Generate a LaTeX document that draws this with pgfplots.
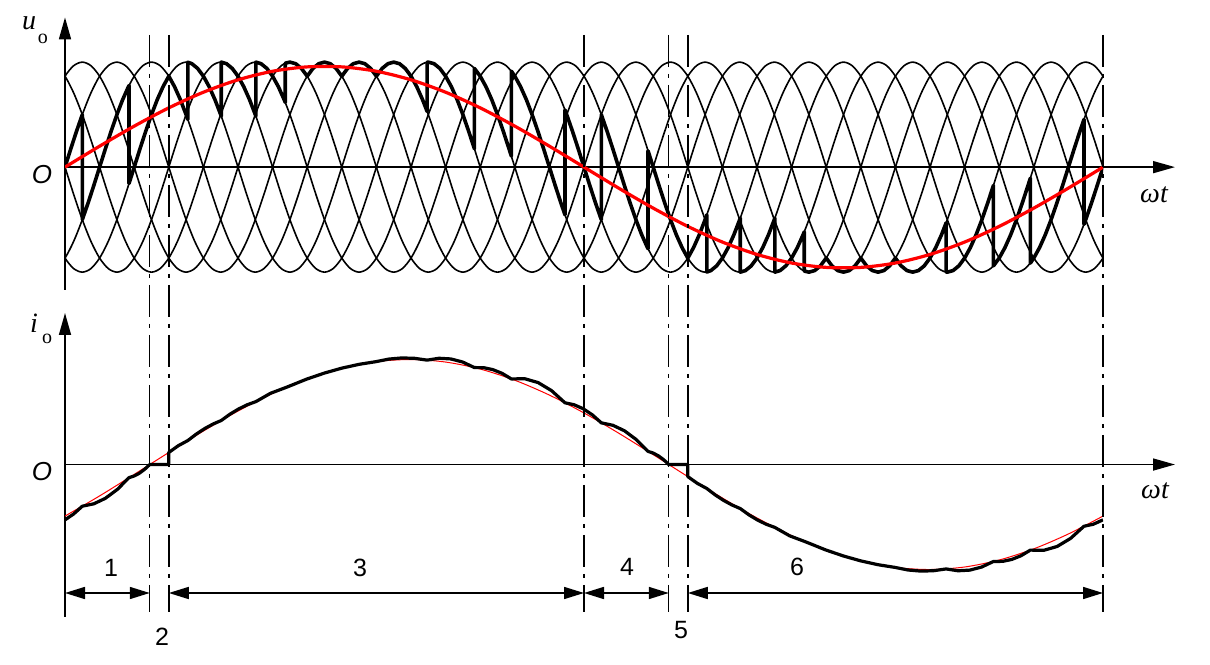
\documentclass[border=0pt]{standalone}
\usepackage{fontspec}
\setmainfont{Liberation Sans}
\newfontfamily\serif{Liberation Serif}
\usepackage{pgfplots}
\pgfplotsset{compat=1.18}
\usepackage{pgfplotstable}
\usetikzlibrary{arrows.meta}

% one period of an input phase voltage (angle in degrees, value)
\pgfplotstableread{
t v
0 0
15 0.2588
30 0.5
45 0.7071
60 0.8660
75 0.9659
90 1
105 0.9659
120 0.8660
135 0.7071
150 0.5
165 0.2588
180 0
195 -0.2588
210 -0.5
225 -0.7071
240 -0.8660
255 -0.9659
270 -1
285 -0.9659
300 -0.8660
315 -0.7071
330 -0.5
345 -0.2588
360 0
}\sinper

\pgfplotsset{
  panel/.style={
    scale only axis, width=519pt, xmin=0, xmax=1800,
    anchor=south west, axis lines=middle,
    xtick=\empty, ytick=\empty,
    every inner x axis line/.append style={line width=0.8pt,-{Triangle[length=11pt,width=6pt]},shorten >=-36pt},
    every inner y axis line/.append style={line width=0.8pt,-{Triangle[length=11pt,width=6pt]}},
  },
}

\begin{document}
\begin{tikzpicture}
\useasboundingbox (0,0) rectangle (605pt,332pt);

% ---------------- top panel: u_o ----------------
\begin{axis}[panel, at={(32.5pt,187pt)}, height=136.3pt, ymin=-1.17, ymax=1.426]
\pgfplotsinvokeforeach{-6,...,30}{
  \addplot[black, line width=0.8pt, smooth] table[x expr=\thisrow{t}+60*(#1), y=v] {\sinper};
}
\addplot[black, line width=1.8pt, line join=round] coordinates {
(0,0) (10,.174) (20,.342) (30,.5) (30,-.5) (40,-.342) (50,-.174) (60,0) (70,.174) (80,.342) (90,.5) (100,.643) (110,.766) (111,.777)
(111,-.156) (120,0) (130,.174) (140,.342) (150,.5) (160,.643) (170,.766) (180,.866) (190,.766) (200,.643) (210,.5) (213,.454)
(213,.999) (220,.985) (230,.940) (240,.866) (250,.766) (260,.643) (270,.5) (271,.485)
(271,1) (280,.985) (290,.940) (300,.866) (310,.766) (320,.643) (330,.5) (331,.485)
(331,1) (340,.985) (350,.940) (360,.866) (370,.766) (380,.643) (382,.616)
(382,.990) (390,1) (400,.985) (410,.940) (420,.866) (430,.940) (440,.985) (450,1) (460,.985) (470,.940) (480,.866)
(490,.940) (500,.985) (510,1) (520,.985) (530,.940) (540,.866) (550,.940) (560,.985) (570,1) (580,.985) (590,.940)
(600,.866) (610,.766) (620,.643) (628,.530)
(628,.999) (630,1) (640,.985) (650,.940) (660,.866) (670,.766) (680,.643) (690,.5) (700,.342) (710,.174)
(710,.940) (720,.866) (730,.766) (740,.643) (750,.5) (760,.342) (770,.174) (774,.105)
(774,.914) (780,.866) (790,.766) (800,.643) (810,.5) (820,.342) (830,.174) (840,0) (850,-.174) (860,-.342) (867,-.454)
(867,.545) (870,.5) (880,.342) (890,.174) (900,0)
(910,-.174) (920,-.342) (930,-.5) (930,.5) (940,.342) (950,.174) (960,0) (970,-.174) (980,-.342) (990,-.5) (1000,-.643) (1010,-.766) (1011,-.777)
(1011,.156) (1020,0) (1030,-.174) (1040,-.342) (1050,-.5) (1060,-.643) (1070,-.766) (1080,-.866) (1090,-.766) (1100,-.643) (1110,-.5) (1113,-.454)
(1113,-.999) (1120,-.985) (1130,-.940) (1140,-.866) (1150,-.766) (1160,-.643) (1170,-.5) (1171,-.485)
(1171,-1) (1180,-.985) (1190,-.940) (1200,-.866) (1210,-.766) (1220,-.643) (1230,-.5) (1231,-.485)
(1231,-1) (1240,-.985) (1250,-.940) (1260,-.866) (1270,-.766) (1280,-.643) (1282,-.616)
(1282,-.990) (1290,-1) (1300,-.985) (1310,-.940) (1320,-.866) (1330,-.940) (1340,-.985) (1350,-1) (1360,-.985) (1370,-.940) (1380,-.866)
(1390,-.940) (1400,-.985) (1410,-1) (1420,-.985) (1430,-.940) (1440,-.866) (1450,-.940) (1460,-.985) (1470,-1) (1480,-.985) (1490,-.940)
(1500,-.866) (1510,-.766) (1520,-.643) (1528,-.530)
(1528,-.999) (1530,-1) (1540,-.985) (1550,-.940) (1560,-.866) (1570,-.766) (1580,-.643) (1590,-.5) (1600,-.342) (1610,-.174)
(1610,-.940) (1620,-.866) (1630,-.766) (1640,-.643) (1650,-.5) (1660,-.342) (1670,-.174) (1674,-.105)
(1674,-.914) (1680,-.866) (1690,-.766) (1700,-.643) (1710,-.5) (1720,-.342) (1730,-.174) (1740,0) (1750,.174) (1760,.342) (1767,.454)
(1767,-.545) (1770,-.5) (1780,-.342) (1790,-.174) (1800,0)
};
\addplot[red, line width=1.6pt, smooth] coordinates {
(0,0) (60,.1996) (120,.3904) (180,.5643) (240,.7134) (300,.8314) (360,.9131) (420,.9547) (480,.9547) (540,.9131)
(600,.8314) (660,.7134) (720,.5643) (780,.3904) (840,.1996) (900,0) (960,-.1996) (1020,-.3904) (1080,-.5643)
(1140,-.7134) (1200,-.8314) (1260,-.9131) (1320,-.9547) (1380,-.9547) (1440,-.9131) (1500,-.8314) (1560,-.7134)
(1620,-.5643) (1680,-.3904) (1740,-.1996) (1800,0)
};
\end{axis}

% ---------------- bottom panel: i_o ----------------
\begin{axis}[panel, at={(32.5pt,23.5pt)}, height=152pt, ymin=-1.452, ymax=1.443]
\addplot[red, line width=0.5pt, smooth] coordinates {
(0,-.4909) (60,-.2990) (120,-.0941) (180,.1149) (240,.3190) (300,.5090) (360,.6769) (420,.8151) (480,.9178) (540,.9803)
(600,.9999) (660,.9759) (720,.9092) (780,.8028) (840,.6613) (900,.4909) (960,.2990) (1020,.0941) (1080,-.1149)
(1140,-.3190) (1200,-.5090) (1260,-.6769) (1320,-.8151) (1380,-.9178) (1440,-.9803) (1500,-.9999) (1560,-.9759)
(1620,-.9092) (1680,-.8028) (1740,-.6613) (1800,-.4909)
};
\addplot[black, line width=1.6pt, line join=round] coordinates {
(0,-.527) (15,-.471) (30,-.397) (50,-.374) (70,-.322) (91,-.236) (111,-.125) (120,-.109) (129,-.083) (138,-.046) (147,0)
(180,0) (180,.1149) (196.5,.1794) (213,.2284) (227.5,.2893) (242,.3416) (256.5,.385) (271,.4195) (286,.4792) (301,.529)
(316,.5691) (331,.599) (356.5,.6788) (382,.7314) (420,.8151) (450,.8712) (480,.9178) (510,.9542) (540,.9803)
(562,1.0045) (584,1.015) (606,1.0115) (628,.9942) (648.5,1.0119) (669,1.0056) (689.5,.9763) (710,.9232)
(726,.9223) (742,.9036) (758,.8682) (774,.8151) (797.25,.8171) (820.5,.7803) (843.75,.7035) (867,.5878)
(882.75,.5694) (898.5,.5315) (914.25,.474) (930,.3971) (950.25,.3733) (970.5,.3204) (990.75,.2371) (1011,.1253)
(1020,.109) (1029,.0828) (1038,.0464) (1047,0)
(1080,0) (1080,-.1149) (1096.5,-.1794) (1113,-.2284) (1127.5,-.2893) (1142,-.3416) (1156.5,-.385) (1171,-.4195)
(1186,-.4792) (1201,-.529) (1216,-.5691) (1231,-.599) (1256.5,-.6788) (1282,-.7314) (1320,-.8151) (1350,-.8712)
(1380,-.9178) (1410,-.9542) (1440,-.9803) (1462,-1.0045) (1484,-1.015) (1506,-1.0115) (1528,-.9942)
(1548.5,-1.0119) (1569,-1.0056) (1589.5,-.9763) (1610,-.9232) (1626,-.9223) (1642,-.9036) (1658,-.8682) (1674,-.8151)
(1697.25,-.8171) (1720.5,-.7803) (1743.75,-.7035) (1767,-.5878) (1782.75,-.5694) (1800,-.527)
};
\coordinate (d0) at (axis cs:0,0);
\coordinate (d1) at (axis cs:147,0);
\coordinate (d2) at (axis cs:180,0);
\coordinate (d3) at (axis cs:900,0);
\coordinate (d4) at (axis cs:1047,0);
\coordinate (d5) at (axis cs:1080,0);
\coordinate (d6) at (axis cs:1800,0);
\end{axis}

% ---------------- region boundaries and dimension arrows ----------------
\coordinate (T) at (0,314.5pt);
\coordinate (B) at (0,26pt);
\coordinate (A) at (0,35.5pt);
\foreach \d in {d1,d2,d3,d4,d5,d6}{
  \draw[line width=0.7pt, dash pattern=on 16pt off 3.5pt on 2pt off 3.5pt] (\d |- T) -- (\d |- B);
}
\tikzset{dim/.style={line width=0.8pt, {Triangle[length=10pt,width=6pt]}-{Triangle[length=10pt,width=6pt]}}}
\draw[dim] (d0 |- A) -- (d1 |- A);
\draw[dim] (d2 |- A) -- (d3 |- A);
\draw[dim] (d3 |- A) -- (d4 |- A);
\draw[dim] (d5 |- A) -- (d6 |- A);

\begin{scope}[every node/.style={font=\fontsize{12.5}{14}\selectfont, inner sep=0pt}]
\node at (55.5pt,48pt) {1};
\node at (81pt,13.5pt) {2};
\node at (180pt,48pt) {3};
\node at (313.5pt,48.5pt) {4};
\node at (340.5pt,17pt) {5};
\node at (398.5pt,48.5pt) {6};
\end{scope}

% axis labels
\node[font=\serif\itshape\fontsize{14}{16}\selectfont, inner sep=0pt] at (14.5pt,320.5pt) {u};
\node[font=\serif\fontsize{10}{11}\selectfont, inner sep=0pt] at (21.5pt,312.5pt) {o};
\node[font=\serif\itshape\fontsize{14}{16}\selectfont, inner sep=0pt] at (17pt,170.5pt) {i};
\node[font=\serif\fontsize{10}{11}\selectfont, inner sep=0pt] at (23.5pt,162.5pt) {o};
\node[font=\itshape\fontsize{13}{15}\selectfont, inner sep=0pt] at (21pt,244.5pt) {O};
\node[font=\itshape\fontsize{13}{15}\selectfont, inner sep=0pt] at (21pt,96pt) {O};
\node[font=\serif\itshape\fontsize{14}{16}\selectfont, inner sep=0pt] at (577pt,234.5pt) {ωt};
\node[font=\serif\itshape\fontsize{14}{16}\selectfont, inner sep=0pt] at (577.5pt,86.5pt) {ωt};
\end{tikzpicture}
\end{document}
